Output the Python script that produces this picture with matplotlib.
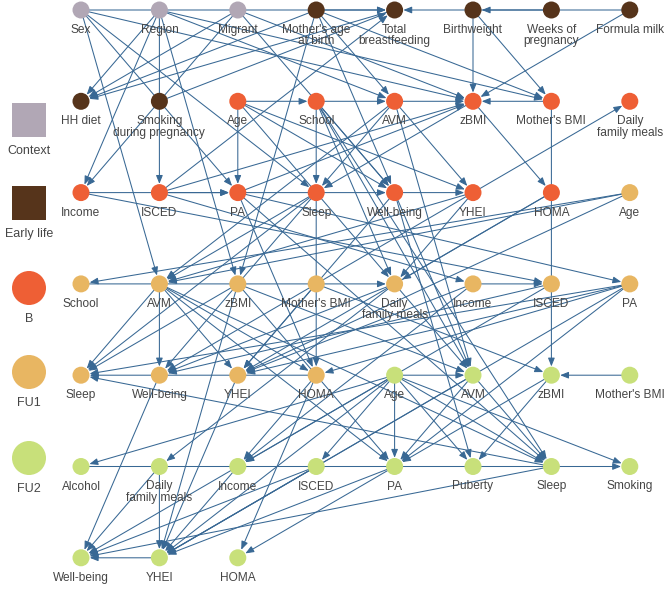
import matplotlib
matplotlib.use('Agg')
import matplotlib.pyplot as plt
from matplotlib.patches import Circle, Rectangle

plt.rcParams['font.family'] = ['Liberation Sans', 'DejaVu Sans']

# ---------------- data ----------------
row_ids = [
    ["C_sex", "C_region", "C_migrant", "E_mage", "E_tbf", "E_bw", "E_weeks", "E_formula"],
    ["E_hhdiet", "E_smokpreg", "B_age", "B_school", "B_avm", "B_zbmi", "B_mbmi", "B_dfm"],
    ["B_income", "B_isced", "B_pa", "B_sleep", "B_wb", "B_yhei", "B_homa", "F1_age"],
    ["F1_school", "F1_avm", "F1_zbmi", "F1_mbmi", "F1_dfm", "F1_income", "F1_isced", "F1_pa"],
    ["F1_sleep", "F1_wb", "F1_yhei", "F1_homa", "F2_age", "F2_avm", "F2_zbmi", "F2_mbmi"],
    ["F2_alcohol", "F2_dfm", "F2_income", "F2_isced", "F2_pa", "F2_puberty", "F2_sleep", "F2_smoking"],
    ["F2_wb", "F2_yhei", "F2_homa"],
]
row_labels = [
    ["Sex", "Region", "Migrant", "Mother's age\nat birth", "Total\nbreastfeeding", "Birthweight", "Weeks of\npregnancy", "Formula milk"],
    ["HH diet", "Smoking\nduring pregnancy", "Age", "School", "AVM", "zBMI", "Mother's BMI", "Daily\nfamily meals"],
    ["Income", "ISCED", "PA", "Sleep", "Well-being", "YHEI", "HOMA", "Age"],
    ["School", "AVM", "zBMI", "Mother's BMI", "Daily\nfamily meals", "Income", "ISCED", "PA"],
    ["Sleep", "Well-being", "YHEI", "HOMA", "Age", "AVM", "zBMI", "Mother's BMI"],
    ["Alcohol", "Daily\nfamily meals", "Income", "ISCED", "PA", "Puberty", "Sleep", "Smoking"],
    ["Well-being", "YHEI", "HOMA"],
]
groups = ["Context", "Early life", "B", "FU1", "FU2"]
group_prefix = {"C": "Context", "E": "Early life", "B": "B", "F1": "FU1", "F2": "FU2"}

edges = [
    # context
    ("C_sex", "E_tbf"), ("C_sex", "B_zbmi"), ("C_sex", "B_sleep"), ("C_sex", "B_pa"), ("C_sex", "F1_avm"),
    ("C_region", "E_hhdiet"), ("C_region", "B_isced"), ("C_region", "B_income"), ("C_region", "B_mbmi"),
    ("C_region", "B_avm"), ("C_region", "F1_zbmi"),
    ("C_migrant", "E_hhdiet"), ("C_migrant", "B_income"), ("C_migrant", "B_wb"), ("C_migrant", "B_zbmi"),
    # early life
    ("E_mage", "E_hhdiet"), ("E_mage", "E_tbf"), ("E_mage", "B_mbmi"), ("E_mage", "F1_zbmi"), ("E_mage", "B_wb"),
    ("E_mage", "B_avm"),
    ("E_tbf", "E_hhdiet"), ("E_weeks", "E_tbf"), ("E_formula", "E_bw"), ("E_formula", "B_zbmi"),
    ("E_bw", "B_zbmi"), ("E_bw", "B_mbmi"), ("E_smokpreg", "E_tbf"),
    # baseline
    ("B_isced", "E_tbf"), ("B_isced", "B_zbmi"), ("B_isced", "B_pa"), ("B_isced", "F1_income"),
    ("B_age", "B_school"), ("B_age", "B_pa"), ("B_age", "B_wb"), ("B_age", "B_yhei"), ("B_age", "F1_dfm"),
    ("B_school", "B_avm"), ("B_school", "B_sleep"), ("B_school", "B_wb"), ("B_school", "F1_dfm"),
    ("B_school", "F2_avm"), ("B_school", "F2_sleep"),
    ("B_avm", "B_zbmi"), ("B_avm", "B_yhei"), ("B_avm", "B_sleep"), ("B_avm", "F2_avm"), ("B_avm", "F1_avm"),
    ("B_zbmi", "B_homa"), ("B_zbmi", "B_sleep"), ("B_pa", "B_zbmi"),
    ("B_mbmi", "B_zbmi"), ("B_mbmi", "F2_zbmi"), ("B_yhei", "B_dfm"),
    ("B_income", "B_pa"), ("B_income", "F1_isced"),
    ("B_pa", "B_wb"), ("B_pa", "F1_pa"), ("B_pa", "F2_sleep"), ("B_pa", "F1_homa"),
    ("B_sleep", "F1_sleep"), ("B_sleep", "F1_avm"), ("B_sleep", "F1_homa"), ("B_sleep", "F1_wb"),
    ("B_wb", "B_yhei"), ("B_wb", "F1_yhei"), ("B_wb", "F2_puberty"), ("B_wb", "F2_avm"),
    ("B_yhei", "F1_dfm"), ("B_yhei", "F1_avm"), ("B_yhei", "F1_wb"),
    ("B_homa", "F1_dfm"), ("B_homa", "F1_yhei"),
    # FU1
    ("F1_age", "F1_school"), ("F1_age", "F1_avm"), ("F1_age", "F1_yhei"),
    ("F1_school", "F1_dfm"), ("F1_income", "F1_isced"),
    ("F1_avm", "F1_sleep"), ("F1_avm", "F1_wb"), ("F1_avm", "F1_yhei"), ("F1_avm", "F1_homa"),
    ("F1_avm", "F2_pa"), ("F1_avm", "F2_sleep"),
    ("F1_zbmi", "F2_yhei"), ("F1_zbmi", "F1_sleep"), ("F1_zbmi", "F2_pa"), ("F1_zbmi", "F2_avm"),
    ("F1_mbmi", "F1_yhei"), ("F1_mbmi", "F2_zbmi"),
    ("F1_dfm", "F2_avm"), ("F1_dfm", "F1_wb"), ("F1_dfm", "F2_dfm"),
    ("F1_income", "F2_income"), ("F1_income", "F1_yhei"),
    ("F1_isced", "F2_income"), ("F1_isced", "F1_wb"),
    ("F1_pa", "F1_sleep"), ("F1_pa", "F1_yhei"), ("F1_pa", "F2_pa"), ("F1_pa", "F2_yhei"), ("F1_pa", "F1_homa"),
    ("F1_homa", "F1_sleep"), ("F1_homa", "F2_homa"), ("F1_homa", "F2_income"),
    ("F1_wb", "F2_wb"), ("F1_yhei", "F2_yhei"), ("F2_sleep", "F1_sleep"),
    # FU2
    ("F2_age", "F2_avm"), ("F2_age", "F2_pa"), ("F2_age", "F2_puberty"), ("F2_age", "F2_sleep"),
    ("F2_age", "F2_smoking"), ("F2_age", "F2_alcohol"), ("F2_age", "F2_income"), ("F2_age", "F2_isced"),
    ("F2_age", "F2_yhei"),
    ("F2_avm", "F2_sleep"), ("F2_avm", "F2_pa"), ("F2_avm", "F2_yhei"),
    ("F2_zbmi", "F2_pa"), ("F2_zbmi", "F2_puberty"), ("F2_mbmi", "F2_zbmi"),
    ("F2_alcohol", "F2_smoking"),
    ("F2_income", "F2_wb"), ("F2_income", "F2_yhei"), ("F2_dfm", "F2_wb"), ("F2_dfm", "F2_yhei"),
    ("F2_isced", "F2_yhei"), ("F2_isced", "F2_wb"), ("F2_pa", "F2_yhei"), ("F2_pa", "F2_homa"),
    ("F2_sleep", "F2_wb"), ("F2_yhei", "F2_wb"),
]

# ---------------- style ----------------
colors = {"Context": "#b1a7b5", "Early life": "#56341b", "B": "#ee5f35",
          "FU1": "#e8b662", "FU2": "#c8e07a"}
edge_color = "#386894"
text_color = "#454545"

x0, dx = 81, 78.4
y0, dy = 10, 91.3
r_node = 8.5

fig = plt.figure(figsize=(6.69, 5.89), dpi=100)
ax = fig.add_axes([0, 0, 1, 1])
ax.set_xlim(0, 669)
ax.set_ylim(589, 0)
ax.axis('off')

pos, grp = {}, {}
for ri, (ids, labs) in enumerate(zip(row_ids, row_labels)):
    for ci, (nid, lab) in enumerate(zip(ids, labs)):
        x, y = x0 + dx * ci, y0 + dy * ri
        pos[nid] = (x, y)
        grp[nid] = group_prefix[nid.split('_')[0]]
        ax.add_patch(Circle((x, y), r_node, facecolor=colors[grp[nid]], edgecolor='none', zorder=3))
        ax.text(x, y + 14, lab, ha='center', va='top', fontsize=8.6, color=text_color,
                linespacing=0.92, zorder=4)

for s, t in edges:
    ax.annotate('', xy=pos[t], xytext=pos[s],
                arrowprops=dict(arrowstyle='-|>,head_length=0.5,head_width=0.2',
                                color=edge_color, lw=0.75, shrinkA=0, shrinkB=6.3,
                                mutation_scale=10), zorder=2)

# legend
leg_y = {"Context": 120, "Early life": 203, "B": 288, "FU1": 372, "FU2": 458}
for g in groups:
    yy = leg_y[g]
    if g in ("Context", "Early life"):
        ax.add_patch(Rectangle((12, yy - 17), 34, 34, facecolor=colors[g], edgecolor='none'))
    else:
        ax.add_patch(Circle((29, yy), 17, facecolor=colors[g], edgecolor='none'))
    ax.text(29, yy + 31, g, ha='center', va='center', fontsize=9, color=text_color)

fig.savefig('out.png', dpi=100)
